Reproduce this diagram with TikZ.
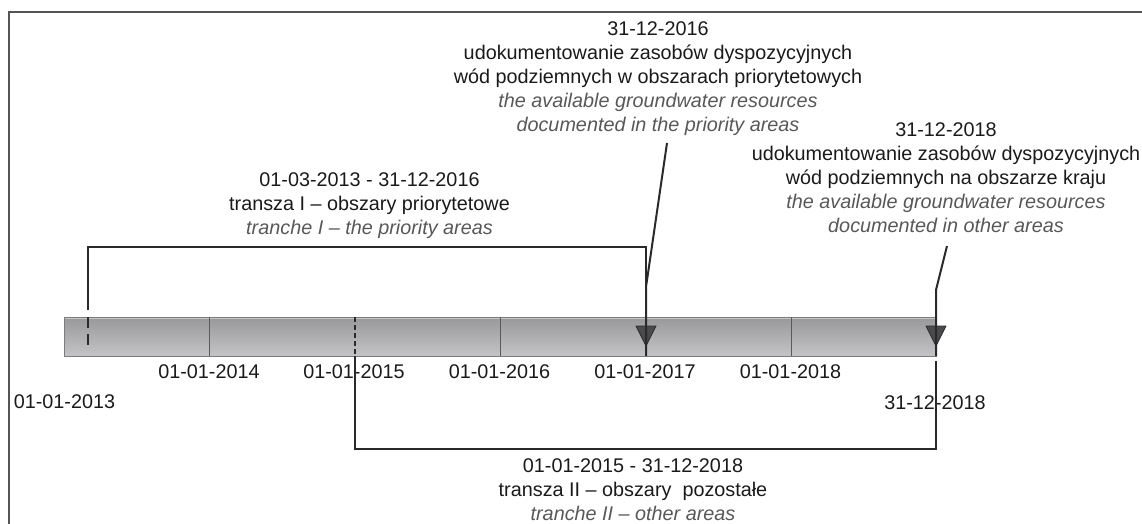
\documentclass[tikz,border=0pt]{standalone}
\usepackage{fontspec}
\setmainfont{Liberation Sans}
\usetikzlibrary{calc}
\definecolor{txt}{HTML}{1A1A1A}
\definecolor{eng}{HTML}{585858}
\definecolor{lnc}{HTML}{2A2A2A}
\definecolor{bartop}{HTML}{98989A}
\definecolor{barbot}{HTML}{C4C4C6}
\definecolor{barline}{HTML}{7C7C7C}
\definecolor{divc}{HTML}{5A5A5A}
\definecolor{trif}{HTML}{4A4A4C}
\definecolor{framec}{HTML}{555555}
\newcommand{\engl}[1]{{\color{eng}\itshape #1}}
\begin{document}
\begin{tikzpicture}[x=1pt,y=-1pt,
  lbl/.style={font=\fontsize{19.8}{24}\selectfont, text=txt, inner sep=0pt, align=center},
  datelbl/.style={lbl, anchor=base},
  conn/.style={draw=lnc, line width=2pt},
  framestyle/.style={draw=framec, line width=1.4pt},
  barstyle/.style={top color=bartop, bottom color=barbot, draw=barline, line width=0.8pt},
  divstyle/.style={draw=divc, line width=0.9pt},
  tri/.style={fill=trif, draw=lnc, line width=0.8pt, line join=round}
]
\useasboundingbox (0,0) rectangle (1142,524);
% frame
\draw[framestyle] (9,524) -- (9,12) -- (1142,12);

% key coordinates
\coordinate (x13) at (64,317);
\coordinate (x14) at (209,317);
\coordinate (x15) at (355,317);
\coordinate (x16) at (500,317);
\coordinate (x17) at (646,317);
\coordinate (x18) at (791,317);
\coordinate (xe) at (936,317);

% bar
\shade[barstyle] (64,317) rectangle (936,356);
\draw[draw=white, opacity=0.45, line width=1pt] (65,318.5) -- (935,318.5);
\foreach \c in {x14,x16,x18} \draw[divstyle] (\c) -- ++(0,39);

% markers (triangles)
\coordinate (k17) at (646,336);
\coordinate (k18) at (936,336);
\filldraw[tri] (k17) ++(-10,-10) -- ++(20,0) -- ++(-10,20) -- cycle;
\filldraw[tri] (k18) ++(-10,-10) -- ++(20,0) -- ++(-10,20) -- cycle;

% text blocks
\node[lbl, anchor=north] (t16) at (658,21.8) {31-12-2016\\udokumentowanie zasobów dyspozycyjnych\\wód podziemnych w obszarach priorytetowych\\\engl{the available groundwater resources}\\\engl{documented in the priority areas}};
\node[lbl, anchor=north] (t18) at (946,122.8) {31-12-2018\\udokumentowanie zasobów dyspozycyjnych\\wód podziemnych na obszarze kraju\\\engl{the available groundwater resources}\\\engl{documented in other areas}};
\node[lbl, anchor=north] (tr1) at (369.5,172.5) {01-03-2013 - 31-12-2016\\transza I – obszary priorytetowe\\\engl{tranche I – the priority areas}};
\node[lbl, anchor=north] (tr2) at (633,458.5) {01-01-2015 - 31-12-2018\\transza II – obszary~ pozostałe\\\engl{tranche II – other areas}};

% date labels
\node[datelbl] (d13) at (64.5,408) {01-01-2013};
\node[datelbl] (d14) at (209,378) {01-01-2014};
\node[datelbl] (d15) at (354,378) {01-01-2015};
\node[datelbl] (d16) at (499.5,378) {01-01-2016};
\node[datelbl] (d17) at (645,378) {01-01-2017};
\node[datelbl] (d18) at (790.5,378) {01-01-2018};
\node[datelbl] (d18e) at (935,409) {31-12-2018};

% connector points
\coordinate (p16) at (667,143);
\coordinate (b16) at (646,287);
\coordinate (k17b) at (646,356);
\coordinate (p18) at (947,246);
\coordinate (b18) at (936,290);
\coordinate (k18b) at (936,356);
\coordinate (s13) at (88,310);
\coordinate (brk1) at (646,247);
\coordinate (s15) at (355,356);
\coordinate (brk2) at (936,449);
\coordinate (e18) at (936,361);

% connectors
\draw[conn] (p16) -- (b16) -- (k17b);
\draw[conn] (p18) -- (b18) -- (k18b);
\draw[conn] (s13) |- (brk1) -- (b16);
\draw[conn] (s15) |- (brk2) -- (e18);
\draw[conn, line width=2.4pt, dash pattern=on 11pt off 6pt] (88,317) -- (88,348);
\draw[conn, dash pattern=on 5pt off 3pt] (x15) -- (s15);
\end{tikzpicture}
\end{document}
